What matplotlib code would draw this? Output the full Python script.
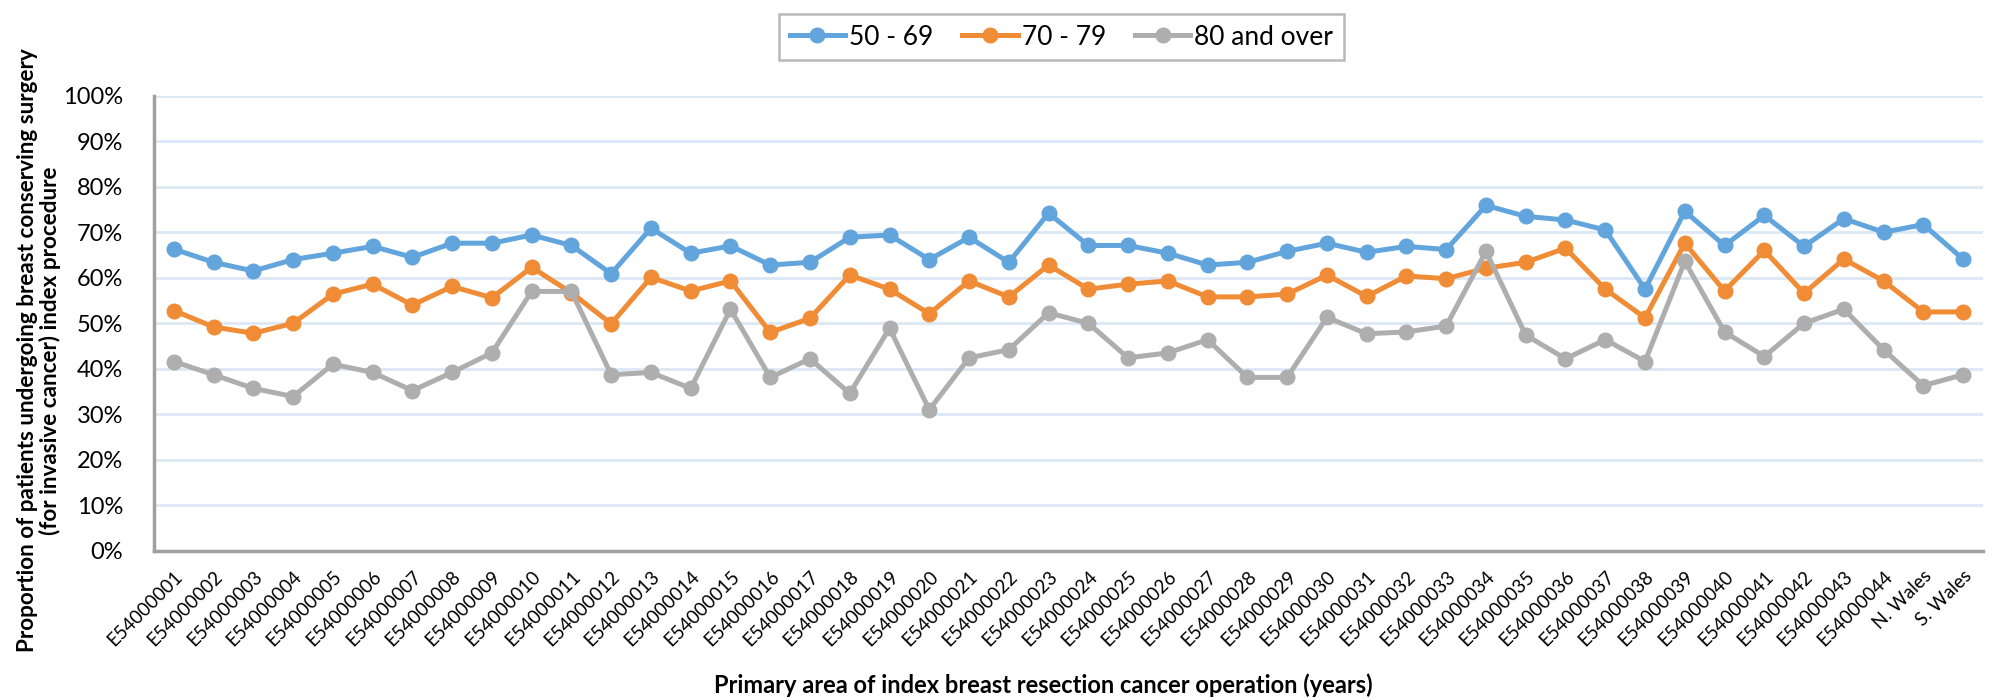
import matplotlib
matplotlib.use("Agg")
import matplotlib.pyplot as plt
import numpy as np

plt.rcParams['font.family'] = ['Lato', 'DejaVu Sans']

areas = ['E540000%02d' % i for i in range(1, 45)] + ['N. Wales', 'S. Wales']

age_50_69 = [66.3, 63.4, 61.5, 64.0, 65.4, 66.9, 64.5, 67.6, 67.6, 69.4,
             67.1, 60.9, 70.9, 65.4, 67.0, 62.8, 63.4, 68.9, 69.4, 64.0,
             68.9, 63.4, 74.2, 67.1, 67.1, 65.4, 62.8, 63.4, 65.8, 67.6,
             65.6, 66.9, 66.2, 75.9, 73.5, 72.7, 70.5, 57.5, 74.6, 67.1,
             73.7, 66.9, 73.0, 70.0, 71.7, 64.1]
age_70_79 = [52.8, 49.2, 47.8, 50.0, 56.4, 58.6, 54.0, 58.1, 55.6, 62.3,
             56.7, 49.9, 60.1, 57.1, 59.3, 48.0, 51.1, 60.6, 57.5, 52.1,
             59.3, 55.8, 62.8, 57.5, 58.6, 59.3, 55.8, 55.8, 56.4, 60.6,
             55.9, 60.4, 59.8, 62.1, 63.4, 66.5, 57.5, 51.2, 67.6, 57.1,
             66.0, 56.6, 64.1, 59.3, 52.5, 52.5]
age_80_over = [41.6, 38.7, 35.7, 33.9, 41.0, 39.2, 35.2, 39.2, 43.5, 57.0,
               57.0, 38.7, 39.2, 35.7, 53.1, 38.1, 42.2, 34.6, 48.9, 31.0,
               42.4, 44.2, 52.3, 50.0, 42.4, 43.5, 46.4, 38.1, 38.1, 51.3,
               47.7, 48.1, 49.4, 65.8, 47.4, 42.2, 46.4, 41.6, 63.6, 48.1,
               42.7, 50.0, 53.1, 44.2, 36.3, 38.7]

series = [('50 - 69', age_50_69, '#62A4DC'),
          ('70 - 79', age_70_79, '#F08C36'),
          ('80 and over', age_80_over, '#AEAEAE')]

fig = plt.figure(figsize=(19.99, 6.99), dpi=100)
ax = fig.add_axes([0.077, 0.212, 0.915, 0.651])

x = np.arange(len(areas))
for name, vals, col in series:
    ax.plot(x, vals, color=col, lw=3.6, marker='o', ms=10.5, label=name)

ax.set_xlim(-0.5, len(areas) - 0.5)
ax.set_ylim(0, 100)
ax.set_yticks(np.arange(0, 101, 10))
ax.set_yticklabels(['%d%%' % v for v in range(0, 101, 10)], fontsize=17)
ax.set_xticks(x)
ax.set_xticklabels(areas, rotation=45, ha='right', rotation_mode='anchor', fontsize=13.5)
ax.tick_params(axis='y', length=0, pad=22)
ax.tick_params(axis='x', length=0, pad=12)

ax.grid(axis='y', color='#DCE8F5', lw=2)
ax.set_axisbelow(True)
for s in ['top', 'right']:
    ax.spines[s].set_visible(False)
for s in ['left', 'bottom']:
    ax.spines[s].set_color('#A0A0A0')
    ax.spines[s].set_linewidth(2.5)

ax.set_ylabel('Proportion of patients undergoing breast conserving surgery\n(for invasive cancer) index procedure',
              fontsize=16.2, fontweight='bold', linespacing=1.05)
ax.yaxis.set_label_coords(-0.051, 0.44)
ax.set_xlabel('Primary area of index breast resection cancer operation (years)',
              fontsize=17, fontweight='bold')
ax.xaxis.set_label_coords(0.486, -0.27)

leg = fig.legend(loc='upper center', bbox_to_anchor=(0.531, 0.98), ncol=3,
                 fontsize=19, frameon=True, fancybox=False, borderpad=0.4,
                 columnspacing=1.1, handlelength=2.1, handletextpad=0.15,
                 borderaxespad=0, edgecolor='#A8A8A8')
leg.get_frame().set_linewidth(1.8)

fig.savefig('out.png', dpi=100)
